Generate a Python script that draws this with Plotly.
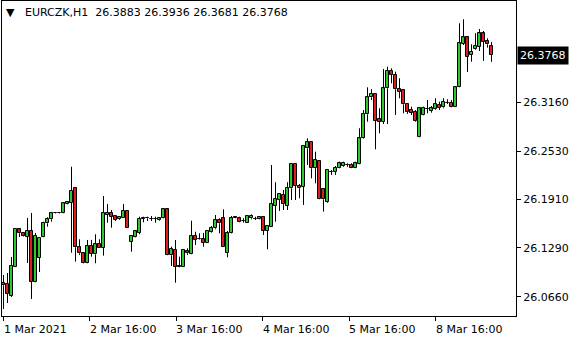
import plotly.graph_objects as go

symbol = "EURCZK,H1"

opens = [26.0840, 26.0824, 26.0669, 26.1042, 26.1527, 26.1484, 26.1432, 26.1505, 26.0850, 26.1158,
         26.1428, 26.1604, 26.1656, 26.1733, 26.1735, 26.1733, 26.1853, 26.1869, 26.2055, 26.1296,
         26.1219, 26.1098, 26.1312, 26.1206, 26.1334, 26.1291, 26.1715, 26.1737, 26.1694, 26.1656,
         26.1676, 26.1763, 26.1368, 26.1424, 26.1484, 26.1660, 26.1667, 26.1663, 26.1660, 26.1643,
         26.1669, 26.1784, 26.1193, 26.1261, 26.1046, 26.1046, 26.1248, 26.1210, 26.1441, 26.1399,
         26.1399, 26.1355, 26.1496, 26.1540, 26.1647, 26.1669, 26.1226, 26.1476, 26.1676, 26.1669,
         26.1638, 26.1612, 26.1669, 26.1660, 26.1656, 26.1689, 26.1509, 26.1561, 26.1831, 26.1904,
         26.1968, 26.1831, 26.2055, 26.2367, 26.2088, 26.2075, 26.2569, 26.2654, 26.2312, 26.2405,
         26.2045, 26.1882, 26.2268, 26.2268, 26.2319, 26.2341, 26.2356, 26.2354, 26.2319, 26.2363,
         26.2697, 26.3006, 26.3225, 26.3267, 26.2946, 26.2911, 26.3340, 26.3567, 26.3512, 26.3332,
         26.3319, 26.3139, 26.3061, 26.3040, 26.2710, 26.2997, 26.3074, 26.3049, 26.3070, 26.3126,
         26.3096, 26.3155, 26.3155, 26.3104, 26.3353, 26.3910, 26.3996, 26.3769, 26.3842, 26.3876,
         26.4048, 26.3949, 26.3883]
highs = [26.0940, 26.0965, 26.1171, 26.1544, 26.1531, 26.1490, 26.1673, 26.1737, 26.1480, 26.1428,
         26.1625, 26.1682, 26.1750, 26.1744, 26.1746, 26.1866, 26.1880, 26.2332, 26.2068, 26.1399,
         26.1222, 26.1390, 26.1390, 26.1463, 26.1399, 26.1955, 26.1853, 26.1775, 26.1711, 26.1698,
         26.1853, 26.1775, 26.1445, 26.1518, 26.1689, 26.1689, 26.1689, 26.1698, 26.1689, 26.1673,
         26.1788, 26.1790, 26.1303, 26.1390, 26.1175, 26.1270, 26.1283, 26.1638, 26.1496, 26.1476,
         26.1480, 26.1510, 26.1570, 26.1711, 26.1669, 26.1784, 26.1505, 26.1698, 26.1689, 26.1689,
         26.1669, 26.1707, 26.1720, 26.1689, 26.1698, 26.1692, 26.1574, 26.2354, 26.2132, 26.1990,
         26.2033, 26.2132, 26.2371, 26.2376, 26.2110, 26.2602, 26.2697, 26.2658, 26.2525, 26.2410,
         26.2049, 26.2294, 26.2290, 26.2341, 26.2397, 26.2397, 26.2376, 26.2376, 26.2397, 26.2826,
         26.3061, 26.3353, 26.3328, 26.3270, 26.3083, 26.3589, 26.3618, 26.3598, 26.3554, 26.3469,
         26.3322, 26.3143, 26.3104, 26.3061, 26.3087, 26.3104, 26.3190, 26.3113, 26.3212, 26.3168,
         26.3212, 26.3199, 26.3190, 26.3357, 26.4176, 26.4228, 26.4000, 26.3906, 26.4048, 26.4103,
         26.4077, 26.3983, 26.3936]
lows = [26.0502, 26.0579, 26.0657, 26.1040, 26.1428, 26.1435, 26.1094, 26.0631, 26.0845, 26.0978,
        26.1425, 26.1561, 26.1625, 26.1728, 26.1729, 26.1730, 26.1848, 26.1226, 26.1111, 26.1197,
        26.1090, 26.1090, 26.1175, 26.1090, 26.1287, 26.1188, 26.1612, 26.1548, 26.1634, 26.1647,
        26.1673, 26.1544, 26.1239, 26.1420, 26.1463, 26.1617, 26.1634, 26.1634, 26.1612, 26.1634,
        26.1665, 26.1190, 26.1055, 26.0840, 26.1039, 26.1044, 26.1197, 26.1207, 26.1325, 26.1390,
        26.1303, 26.1352, 26.1484, 26.1527, 26.1476, 26.1300, 26.1167, 26.1472, 26.1669, 26.1617,
        26.1612, 26.1612, 26.1656, 26.1647, 26.1652, 26.1454, 26.1270, 26.1558, 26.1625, 26.1763,
        26.1775, 26.1775, 26.1904, 26.1904, 26.1926, 26.1840, 26.2354, 26.2183, 26.2119, 26.1910,
        26.1754, 26.1869, 26.2226, 26.2226, 26.2312, 26.2332, 26.2332, 26.2310, 26.2312, 26.2360,
        26.2690, 26.2911, 26.3190, 26.2556, 26.2762, 26.2881, 26.2881, 26.3405, 26.2997, 26.3212,
        26.3019, 26.3010, 26.2997, 26.2911, 26.2706, 26.2993, 26.3019, 26.3027, 26.3061, 26.3061,
        26.3083, 26.3139, 26.3096, 26.3100, 26.3350, 26.3897, 26.3550, 26.3683, 26.3833, 26.3820,
        26.3692, 26.3863, 26.3681]
closes = [26.0807, 26.0695, 26.1055, 26.1531, 26.1476, 26.1441, 26.1505, 26.0850, 26.1441, 26.1415,
          26.1612, 26.1656, 26.1733, 26.1737, 26.1738, 26.1862, 26.1874, 26.2024, 26.1296, 26.1219,
          26.1098, 26.1312, 26.1210, 26.1334, 26.1291, 26.1737, 26.1737, 26.1689, 26.1647, 26.1689,
          26.1763, 26.1548, 26.1441, 26.1501, 26.1660, 26.1669, 26.1670, 26.1660, 26.1664, 26.1669,
          26.1784, 26.1193, 26.1270, 26.1046, 26.1049, 26.1261, 26.1219, 26.1441, 26.1390, 26.1396,
          26.1355, 26.1505, 26.1548, 26.1647, 26.1604, 26.1303, 26.1476, 26.1669, 26.1679, 26.1625,
          26.1637, 26.1698, 26.1698, 26.1662, 26.1689, 26.1509, 26.1570, 26.1853, 26.1913, 26.1981,
          26.1849, 26.2055, 26.2367, 26.2084, 26.2055, 26.2598, 26.2646, 26.2312, 26.2418, 26.1913,
          26.1913, 26.2290, 26.2270, 26.2319, 26.2376, 26.2384, 26.2354, 26.2312, 26.2376, 26.2697,
          26.3010, 26.3225, 26.3267, 26.2924, 26.2911, 26.3340, 26.3567, 26.3512, 26.3328, 26.3297,
          26.3135, 26.3040, 26.3027, 26.2924, 26.3083, 26.3091, 26.3076, 26.3083, 26.3139, 26.3091,
          26.3168, 26.3157, 26.3104, 26.3353, 26.3919, 26.3996, 26.3743, 26.3811, 26.3884, 26.4048,
          26.3940, 26.3906, 26.3768]

time_tick_pos = [0, 21.5, 43.2, 64.75, 86.4, 108]
time_tick_text = ["1 Mar 2021", "2 Mar 16:00", "3 Mar 16:00", "4 Mar 16:00", "5 Mar 16:00", "8 Mar 16:00"]
price_ticks = [26.066, 26.129, 26.191, 26.253, 26.316]

FONT = "DejaVu Sans"
UP_COLOR = "#2ec82e"
DOWN_COLOR = "#dc1e1e"

# wick segments (above and below each body)
wx, wy = [], []
up_x, up_base, up_h = [], [], []
dn_x, dn_base, dn_h = [], [], []
for i, (o, h, l, c) in enumerate(zip(opens, highs, lows, closes)):
    bot, top = min(o, c), max(o, c)
    wx += [i, i, None, i, i, None]
    wy += [l, bot, None, top, h, None]
    if c >= o:
        up_x.append(i); up_base.append(bot); up_h.append(top - bot)
    else:
        dn_x.append(i); dn_base.append(bot); dn_h.append(top - bot)

fig = go.Figure()
fig.add_trace(go.Scatter(x=wx, y=wy, mode="lines", line=dict(color="#000000", width=1),
                         hoverinfo="skip", connectgaps=False))
fig.add_trace(go.Bar(x=up_x, y=up_h, base=up_base, width=0.75, marker=dict(
    color=UP_COLOR, line=dict(color="#000000", width=1)), hoverinfo="skip"))
fig.add_trace(go.Bar(x=dn_x, y=dn_h, base=dn_base, width=0.75, marker=dict(
    color=DOWN_COLOR, line=dict(color="#000000", width=1)), hoverinfo="skip"))

fig.update_layout(
    width=580, height=340,
    margin=dict(l=2, r=64, t=1, b=24),
    paper_bgcolor="white", plot_bgcolor="white",
    showlegend=False, barmode="overlay", bargap=0, bargroupgap=0,
    font=dict(family=FONT, size=11, color="#000000"),
    xaxis=dict(
        range=[-0.375, 128.125],
        showgrid=False, zeroline=False,
        showline=True, linecolor="black", linewidth=1, mirror=True,
        tickmode="array", tickvals=time_tick_pos, ticktext=[""] * len(time_tick_pos),
        ticks="outside", ticklen=4, tickcolor="black", tickwidth=1,
    ),
    yaxis=dict(
        range=[26.0412, 26.4463], side="right",
        showgrid=False, zeroline=False,
        showline=True, linecolor="black", linewidth=1, mirror=True,
        tickmode="array", tickvals=price_ticks,
        ticktext=[f"{v:.4f}" for v in price_ticks],
        ticks="outside", ticklen=4, tickcolor="black", tickwidth=1,
        tickfont=dict(family=FONT, size=11, color="#000000"),
    ),
)

for pos, txt in zip(time_tick_pos, time_tick_text):
    fig.add_annotation(x=pos, xref="x", y=0, yref="paper", yshift=-5,
                       text=txt, showarrow=False, xanchor="left", yanchor="top",
                       font=dict(family=FONT, size=11, color="#000000"), xshift=-2)

last = closes[-1]
fig.add_annotation(x=1, xref="paper", y=last, yref="y", xanchor="left", yanchor="middle",
                   text=f"{last:.4f}", showarrow=False, bgcolor="#000000",
                   font=dict(family=FONT, size=11, color="#ffffff"), borderpad=2, xshift=1)

header = "▼\u00a0\u00a0\u00a0" + symbol + "\u00a0\u00a0" + "\u00a0".join(
    f"{v:.4f}" for v in (opens[-1], highs[-1], lows[-1], closes[-1]))
fig.add_annotation(x=0, xref="paper", y=1, yref="paper", xanchor="left", yanchor="top",
                   text=header, showarrow=False, xshift=2, yshift=-3,
                   font=dict(family=FONT, size=11, color="#000000"))

fig.write_html("out.html")
